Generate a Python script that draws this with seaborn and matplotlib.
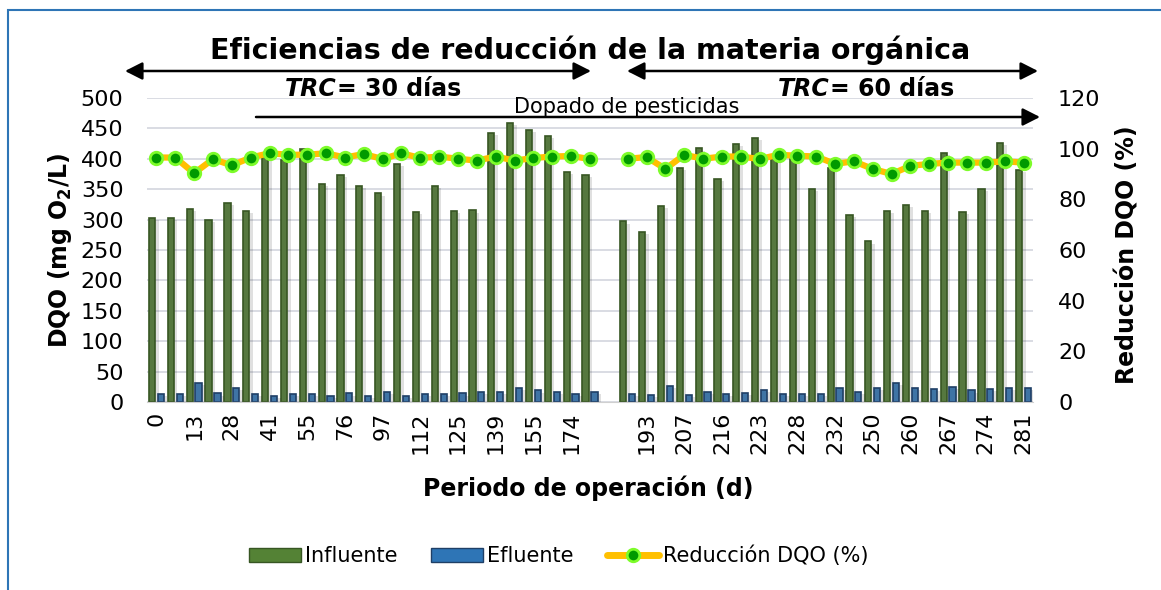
import numpy as np
import pandas as pd
import matplotlib
matplotlib.use("Agg")
import matplotlib.pyplot as plt
import matplotlib.patheffects as pe
from matplotlib.lines import Line2D
from matplotlib.patches import Patch, Rectangle
import seaborn as sns

nan = np.nan

# Etiquetas del eje x (Excel solo muestra una de cada dos; la posicion 24 es el hueco)
etiquetas_x = [
    "0", "", "13", "", "28", "", "41", "", "55", "", "76", "", "97", "",
    "112", "", "125", "", "139", "", "155", "", "174", "", "", "",
    "193", "", "207", "", "216", "", "223", "", "228", "", "232", "",
    "250", "", "260", "", "267", "", "274", "", "281",
]

tramo = ["TRC 30"] * 24 + ["hueco"] + ["TRC 60"] * 22

# DQO (mg O2/L)
influente = [
    303, 303, 318, 299, 327, 314, 404, 398, 416, 358,
    373, 356, 343, 391, 313, 356, 314, 315, 442, 459,
    448, 437, 379, 373, nan,
    297, 279, 322, 385, 417, 367, 425, 435, 405, 400,
    351, 385, 307, 264, 314, 324, 314, 409, 312, 350,
    426, 382,
]
efluente = [
    13, 13, 32, 14, 23, 13, 10, 13, 13, 9.5,
    14, 10.5, 16, 10.5, 13, 13, 14, 16.5, 16.5, 23,
    19, 16.5, 13, 16.5, nan,
    13, 11, 27, 12, 16.5, 13, 15, 20, 13, 13,
    13, 23.5, 16.5, 23, 32, 23.5, 21, 25, 19, 21,
    23.5, 23,
]

# Reduccion DQO (%)
reduccion = [
    96.5, 96.5, 90.3, 95.9, 93.4, 96.5, 98.2, 97.6, 97.6, 98.2,
    96.5, 97.9, 95.9, 98.2, 96.3, 96.9, 96.0, 95.3, 96.9, 95.3,
    96.3, 96.9, 97.1, 95.9, nan,
    96.0, 96.7, 92.0, 97.6, 96.0, 96.9, 96.9, 95.9, 97.6, 97.2,
    96.9, 94.0, 95.0, 92.0, 90.0, 93.2, 94.0, 94.5, 94.5, 94.5,
    95.0, 94.5,
]

series = ["Influente", "Efluente"]
colores = {"Influente": "#548235", "Efluente": "#2e75b6"}
bordes = {"Influente": "#375623", "Efluente": "#1f3f66"}

pos = list(range(len(etiquetas_x)))

df_barras = pd.DataFrame({
    "pos": pos * 2,
    "serie": ["Influente"] * len(pos) + ["Efluente"] * len(pos),
    "valor": influente + efluente,
}).dropna()

df_linea = pd.DataFrame({
    "pos": pos,
    "tramo": tramo,
    "reduccion": reduccion,
}).dropna()

sns.set_style("white")
plt.rcParams["font.family"] = ["DejaVu Sans"]
plt.rcParams["text.color"] = "black"
plt.rcParams["axes.labelcolor"] = "black"
plt.rcParams["xtick.color"] = "black"
plt.rcParams["ytick.color"] = "black"

W, H = 1161, 590
fig = plt.figure(figsize=(W / 100, H / 100), dpi=100)
ax = fig.add_axes([147 / W, 1 - 402 / H, 886 / W, 304 / H])
ax2 = ax.twinx()

# Barras
sns.barplot(
    data=df_barras,
    x="pos",
    y="valor",
    hue="serie",
    hue_order=series,
    palette=colores,
    native_scale=True,
    width=0.94,
    gap=0.3,
    errorbar=None,
    legend=False,
    ax=ax,
)

for cont, serie in zip(ax.containers, series):
    for bar in cont:
        bar.set_edgecolor(bordes[serie])
        bar.set_linewidth(1.2)
        bar.set_path_effects([
            pe.SimplePatchShadow(offset=(2.5, -1.5), shadow_rgbFace="black", alpha=0.12),
            pe.Normal(),
        ])

# Linea de reduccion
sns.lineplot(
    data=df_linea,
    x="pos",
    y="reduccion",
    units="tramo",
    estimator=None,
    color="#ffc000",
    linewidth=4.5,
    marker="o",
    markersize=9,
    markerfacecolor="#009a00",
    markeredgecolor="#7dfc2a",
    markeredgewidth=2,
    legend=False,
    ax=ax2,
)

# Ejes
ax.set_xlim(-0.5, len(pos) - 0.5)
ax.set_ylim(0, 500)
ax.set_yticks(range(0, 501, 50))
ax.set_xticks(pos)
ax.set_xticklabels(etiquetas_x, rotation=90, va="top", ha="center")
ax.tick_params(axis="x", length=0, pad=7, labelsize=16)
ax.tick_params(axis="y", length=0, pad=17, labelsize=16)
ax.set_xlabel("")
ax.set_ylabel("")
ax.yaxis.grid(True, color="#d9dce3", linewidth=1.4)
ax.set_axisbelow(True)
for s in ["top", "left", "right"]:
    ax.spines[s].set_visible(False)
ax.spines["bottom"].set_color("#d0d0d0")

ax2.set_ylim(0, 120)
ax2.set_yticks(range(0, 121, 20))
ax2.tick_params(axis="y", length=0, pad=18, labelsize=16)
ax2.set_ylabel("")
ax2.set_xlabel("")
ax2.grid(False)
for s in ax2.spines.values():
    s.set_visible(False)

# Textos
fig.text(590 / W, 1 - 59 / H, "Eficiencias de reducción de la materia orgánica",
         ha="center", va="baseline", fontsize=20.5, fontweight="bold")
fig.text(588 / W, 1 - 496 / H, "Periodo de operación (d)",
         ha="center", va="baseline", fontsize=17, fontweight="bold")
fig.text(60 / W, 1 - 250 / H, "DQO (mg O$_{\\mathbf{2}}$/L)",
         ha="center", va="center", rotation=90, fontsize=17, fontweight="bold")
fig.text(1127 / W, 1 - 255 / H, "Reducción DQO (%)",
         ha="center", va="center", rotation=90, fontsize=17, fontweight="bold")

for x_sep, rotulo in [(337, "= 30 días"), (830, "= 60 días")]:
    fig.text(x_sep / W, 1 - 96.5 / H, "TRC", ha="right", va="baseline",
             fontsize=17, fontweight="bold", fontstyle="italic")
    fig.text(x_sep / W, 1 - 96.5 / H, rotulo, ha="left", va="baseline",
             fontsize=17, fontweight="bold")

fig.text(627 / W, 1 - 113 / H, "Dopado de pesticidas",
         ha="center", va="baseline", fontsize=15)

# Flechas
estilo_doble = "<|-|>,head_length=0.75,head_width=0.38"
for x0, x1 in [(125, 591), (627, 1038)]:
    ax.annotate("", xy=(x1 / W, 1 - 71 / H), xytext=(x0 / W, 1 - 71 / H),
                xycoords="figure fraction", textcoords="figure fraction",
                arrowprops=dict(arrowstyle=estilo_doble, color="black", lw=1.8,
                                mutation_scale=14, shrinkA=0, shrinkB=0))
ax.annotate("", xy=(1040 / W, 1 - 117 / H), xytext=(256 / W, 1 - 117 / H),
            xycoords="figure fraction", textcoords="figure fraction",
            arrowprops=dict(arrowstyle="-|>,head_length=0.75,head_width=0.38",
                            color="black", lw=1.8, mutation_scale=14,
                            shrinkA=0, shrinkB=0))

# Marco del grafico
fig.add_artist(Rectangle((8 / W, -0.2), 1.2, (1 - 10 / H) + 0.2,
                         transform=fig.transFigure, fill=False,
                         edgecolor="#2e75b6", linewidth=1.5))

# Leyenda
handles = [
    Patch(facecolor=colores["Influente"], edgecolor=bordes["Influente"]),
    Patch(facecolor=colores["Efluente"], edgecolor=bordes["Efluente"]),
    Line2D([], [], color="#ffc000", linewidth=5, marker="o", markersize=9,
           markerfacecolor="#009a00", markeredgecolor="#7dfc2a", markeredgewidth=2),
]
fig.legend(handles, ["Influente", "Efluente", "Reducción DQO (%)"],
           loc="center", bbox_to_anchor=(559 / W, 1 - 556 / H), ncol=3,
           frameon=False, fontsize=15, handlelength=2.5, handletextpad=0.2,
           columnspacing=1.6)

fig.savefig("out.png", dpi=100)
